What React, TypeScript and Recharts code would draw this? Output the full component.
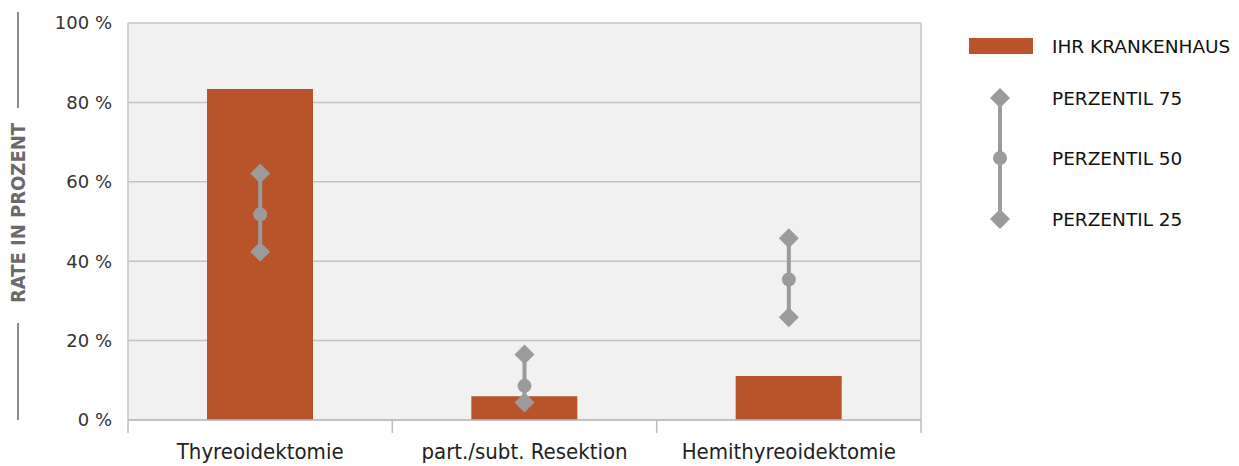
import React from "react";
import {
  ComposedChart,
  Bar,
  Scatter,
  ErrorBar,
  XAxis,
  YAxis,
  CartesianGrid,
  Legend,
} from "recharts";

const categories = ["Thyreoidektomie", "part./subt. Resektion", "Hemithyreoidektomie"];
const hospitalRate = [83.4, 6.0, 11.1];
const perzentil75 = [62.1, 16.5, 45.8];
const perzentil50 = [51.8, 8.6, 35.4];
const perzentil25 = [42.4, 4.4, 25.9];
const yTicks = [0, 20, 40, 60, 80, 100];

const BAR_COLOR = "#b8532a";
const MARK_COLOR = "#9b9b9b";
const AXIS_COLOR = "#bdbdbd";

const WIDTH = 1239;
const HEIGHT = 466;
const MARGIN = { top: 23, right: 318, bottom: 0, left: 48 };
const Y_AXIS_W = 80;
const PLOT_W = WIDTH - MARGIN.left - MARGIN.right - Y_AXIS_W;
const BAND = PLOT_W / categories.length;

const data = categories.map((name, i) => ({
  name,
  rate: hospitalRate[i],
  p75: perzentil75[i],
  p50: perzentil50[i],
  p25: perzentil25[i],
  spread: [perzentil50[i] - perzentil25[i], perzentil75[i] - perzentil50[i]],
}));

const Diamond = (props: any) => {
  const { cx, cy } = props;
  const r = 10;
  return (
    <polygon
      points={`${cx},${cy - r} ${cx + r},${cy} ${cx},${cy + r} ${cx - r},${cy}`}
      fill={MARK_COLOR}
    />
  );
};

const Dot = (props: any) => <circle cx={props.cx} cy={props.cy} r={7} fill={MARK_COLOR} />;

// category label plus the small separator ticks at the band edges
const CategoryTick = (props: any) => {
  const { x, y, payload } = props;
  const axisY = y - 23;
  return (
    <g>
      <line x1={x - BAND / 2} y1={axisY} x2={x - BAND / 2} y2={axisY + 13} stroke={AXIS_COLOR} strokeWidth={1.5} />
      {payload.index === categories.length - 1 && (
        <line x1={x + BAND / 2} y1={axisY} x2={x + BAND / 2} y2={axisY + 13} stroke={AXIS_COLOR} strokeWidth={1.5} />
      )}
      <text
        x={x}
        y={y + 16}
        textAnchor="middle"
        fontFamily="DejaVu Sans Condensed"
        fontSize={22}
        fill="#222"
      >
        {payload.value}
      </text>
    </g>
  );
};

const legendText = {
  fontFamily: "DejaVu Sans",
  fontSize: 18.5,
  fill: "#111",
};

const renderLegend = () => (
  <svg width={289} height={220}>
    <rect x={19} y={18} width={64} height={16} fill={BAR_COLOR} />
    <text x={102} y={26} dominantBaseline="central" {...legendText}>
      IHR KRANKENHAUS
    </text>
    <line x1={50} y1={78} x2={50} y2={199} stroke={MARK_COLOR} strokeWidth={4} />
    <Diamond cx={50} cy={78} />
    <Dot cx={50} cy={138} />
    <Diamond cx={50} cy={199} />
    <text x={102} y={78} dominantBaseline="central" {...legendText}>
      PERZENTIL 75
    </text>
    <text x={102} y={138} dominantBaseline="central" {...legendText}>
      PERZENTIL 50
    </text>
    <text x={102} y={199} dominantBaseline="central" {...legendText}>
      PERZENTIL 25
    </text>
  </svg>
);

export default function App() {
  return (
    <div style={{ position: "absolute", left: 0, top: 0, width: WIDTH, height: HEIGHT, background: "#fff" }}>
      <ComposedChart
        width={WIDTH}
        height={HEIGHT}
        data={data}
        margin={MARGIN}
        style={{ fontFamily: "DejaVu Sans" }}
      >
        <CartesianGrid
          fill="#f1f1f1"
          stroke="#c4c4c4"
          strokeWidth={1.5}
          verticalCoordinatesGenerator={({ offset }: any) => [offset.left, offset.left + offset.width]}
        />
        <XAxis
          dataKey="name"
          height={46}
          axisLine={{ stroke: AXIS_COLOR, strokeWidth: 1.5 }}
          tickLine={false}
          tickSize={0}
          tickMargin={23}
          interval={0}
          tick={<CategoryTick />}
        />
        <YAxis
          width={Y_AXIS_W}
          domain={[0, 100]}
          ticks={yTicks}
          axisLine={false}
          tickLine={false}
          tickMargin={10}
          tickFormatter={(v) => `${v} %`}
          tick={{ fontFamily: "DejaVu Sans", fontSize: 18, fill: "#333" }}
        />
        <Legend
          layout="vertical"
          align="center"
          verticalAlign="middle"
          wrapperStyle={{ left: 950, top: 20, width: 289, height: 220 }}
          content={renderLegend}
        />
        <Bar dataKey="rate" name="IHR KRANKENHAUS" fill={BAR_COLOR} barSize={106} isAnimationActive={false} />
        <Scatter dataKey="p50" name="PERZENTIL 50" shape={Dot} isAnimationActive={false} legendType="none">
          <ErrorBar dataKey="spread" direction="y" width={0} stroke={MARK_COLOR} strokeWidth={4} />
        </Scatter>
        <Scatter dataKey="p75" name="PERZENTIL 75" shape={Diamond} isAnimationActive={false} legendType="none" />
        <Scatter dataKey="p25" name="PERZENTIL 25" shape={Diamond} isAnimationActive={false} legendType="none" />
      </ComposedChart>
      <svg
        width={40}
        height={HEIGHT}
        style={{ position: "absolute", left: 0, top: 0, pointerEvents: "none" }}
      >
        <line x1={18} y1={12} x2={18} y2={108} stroke="#666" strokeWidth={1.5} />
        <line x1={18} y1={323} x2={18} y2={420} stroke="#666" strokeWidth={1.5} />
        <text
          x={18}
          y={213}
          transform="rotate(-90 18 213)"
          textAnchor="middle"
          dominantBaseline="central"
          fontFamily="DejaVu Sans Condensed"
          fontWeight="bold"
          fontSize={20}
          fill="#6a6a6a"
        >
          RATE IN PROZENT
        </text>
      </svg>
    </div>
  );
}
